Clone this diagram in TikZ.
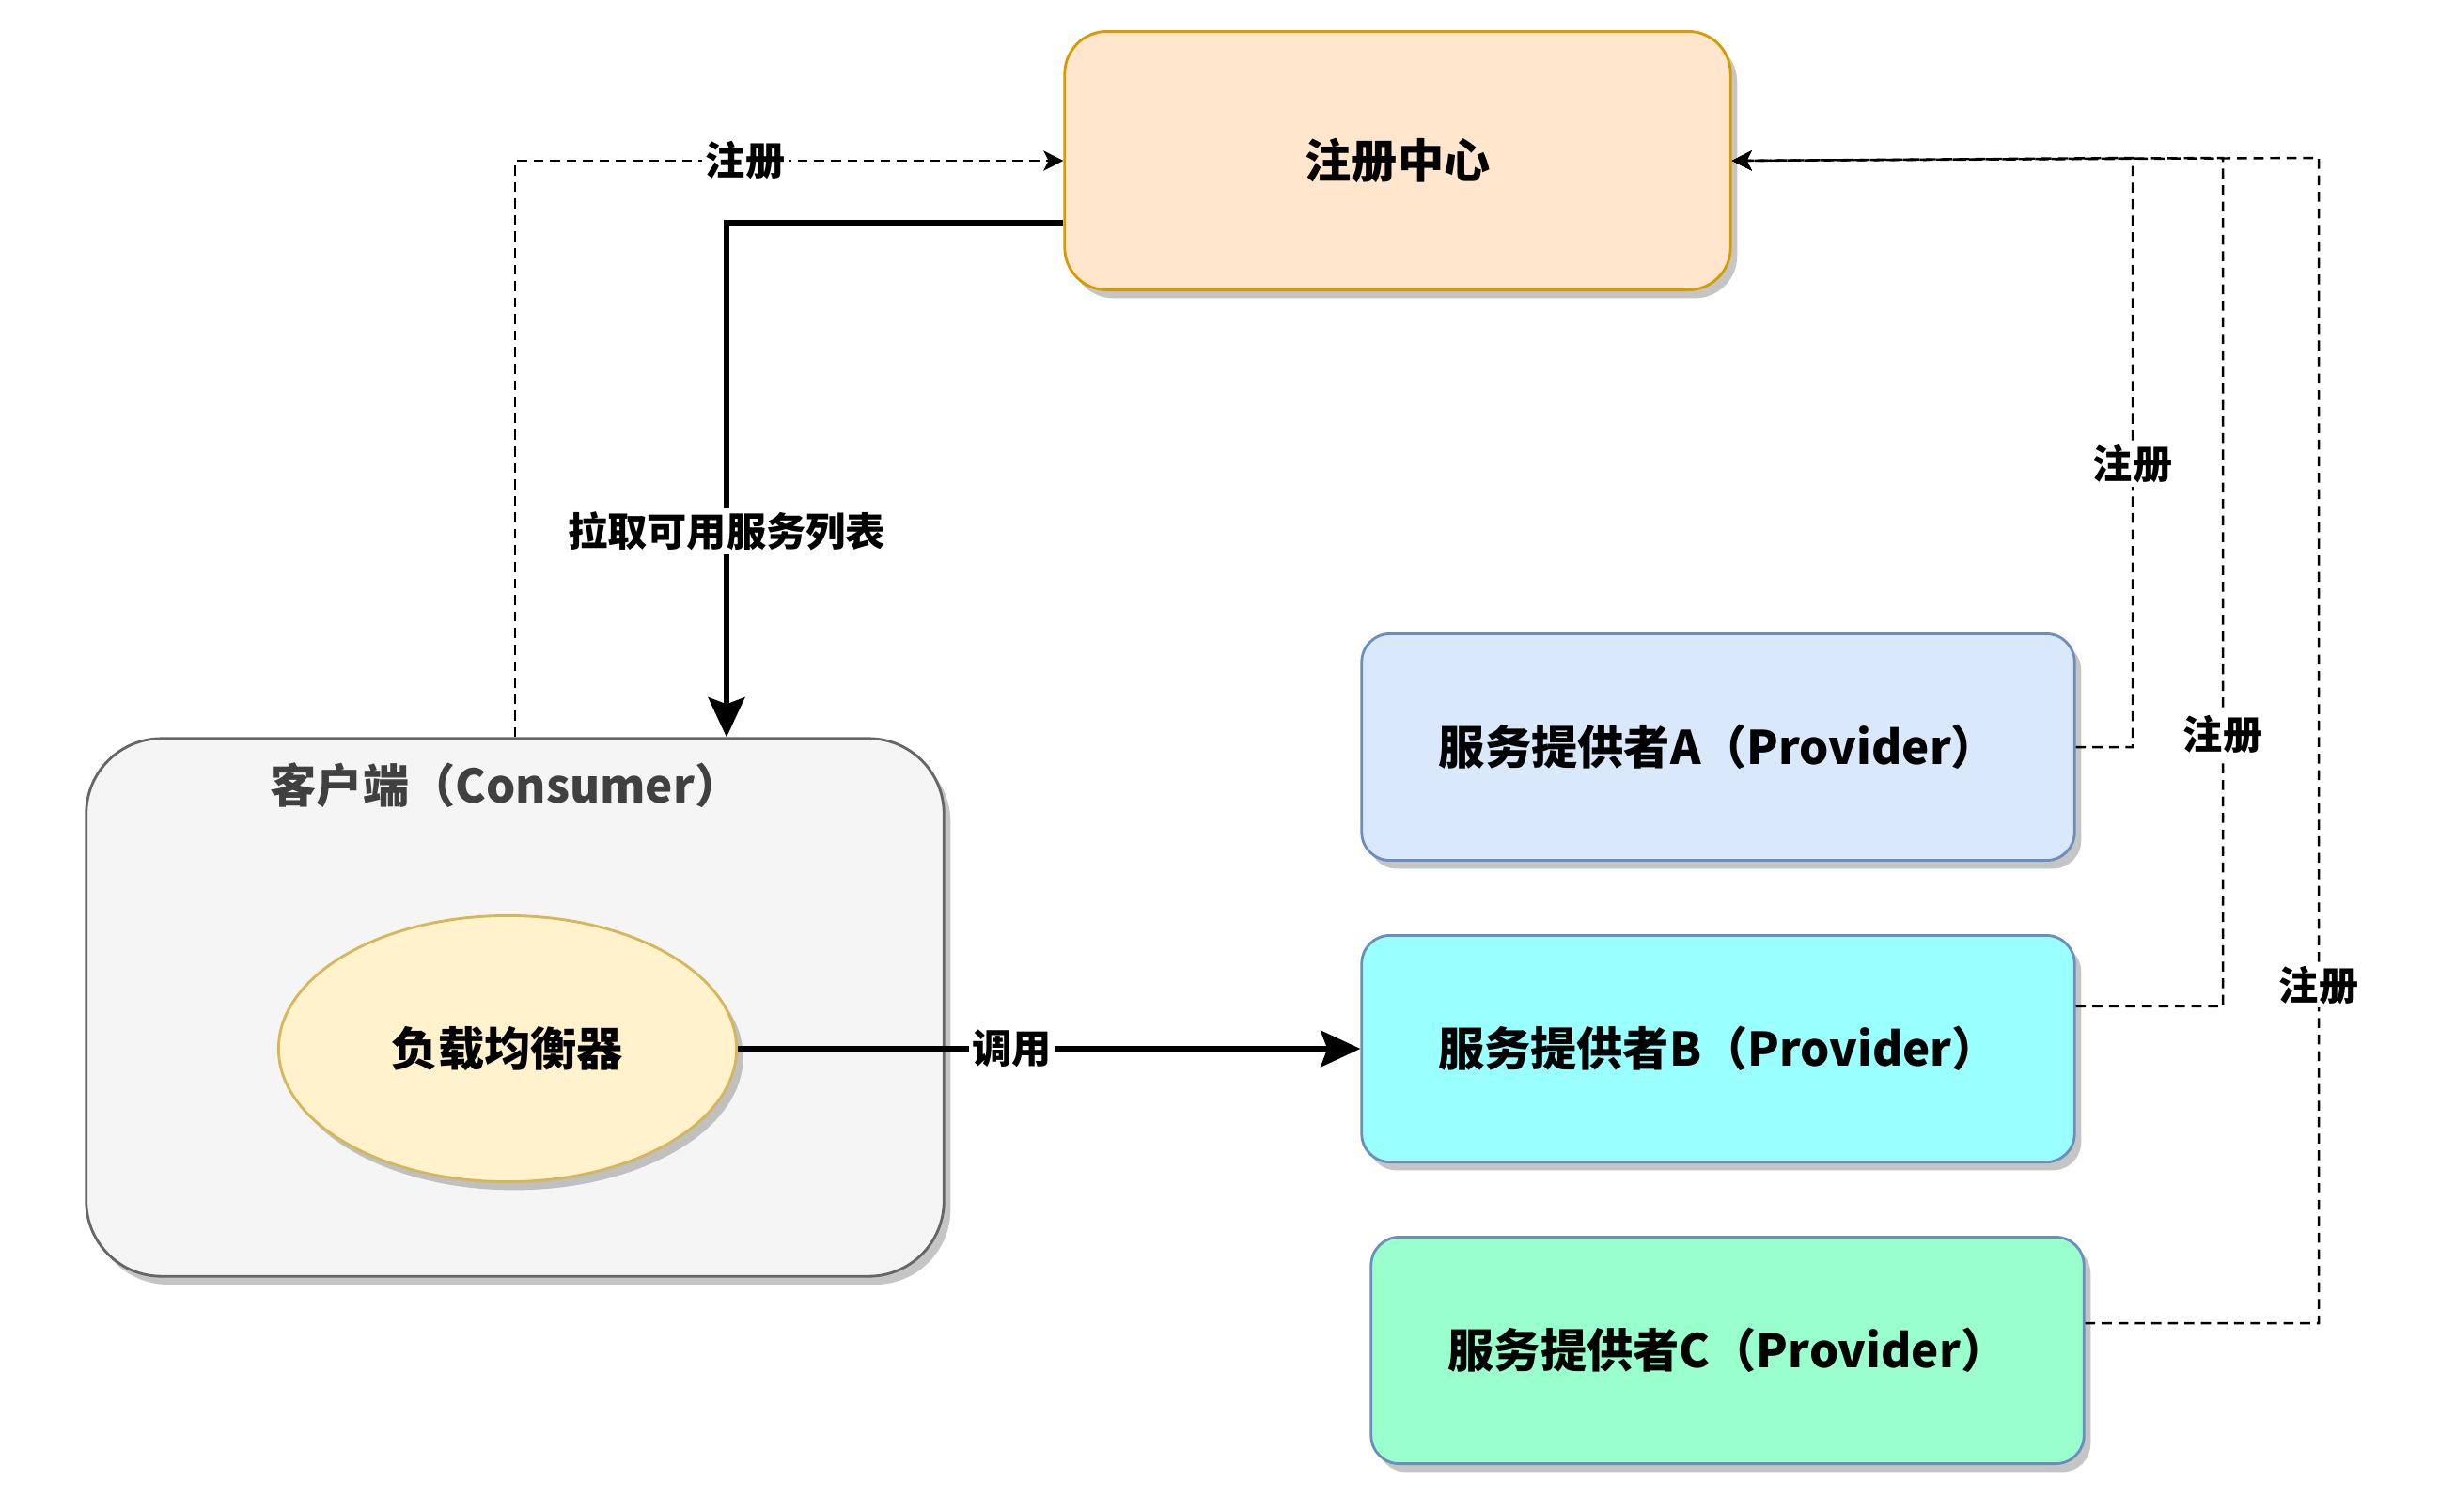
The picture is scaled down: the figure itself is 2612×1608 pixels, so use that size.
\documentclass[tikz,border=0pt]{standalone}
\usepackage{fontspec}
\setmainfont{Noto Sans CJK SC}
\usetikzlibrary{shapes.geometric,shadows,arrows.meta}
\definecolor{regfill}{HTML}{FFE6CC}
\definecolor{regdraw}{HTML}{D79B00}
\definecolor{clientfill}{HTML}{F5F5F5}
\definecolor{clientdraw}{HTML}{666666}
\definecolor{lbfill}{HTML}{FFF2CC}
\definecolor{lbdraw}{HTML}{D6B656}
\definecolor{provdraw}{HTML}{6C8EBF}
\definecolor{provA}{HTML}{DAE8FC}
\definecolor{provB}{HTML}{99FFFF}
\definecolor{provC}{HTML}{99FFCC}
\begin{document}
\begin{tikzpicture}[x=0.01cm, y=-0.01cm,
		shade/.style={drop shadow={shadow xshift=2pt, shadow yshift=-2.5pt, fill=black!45, opacity=0.5}},
		box/.style={draw, line width=0.8pt, shade, font=\bfseries\fontsize{14}{17}\selectfont},
		provider/.style={box, draw=provdraw, rounded corners=0.3cm, minimum width=7.58cm, minimum height=2.41cm},
		lbl/.style={fill=white, inner sep=1pt, font=\bfseries\fontsize{12}{14}\selectfont},
		regline/.style={line width=0.7pt, dash pattern=on 3pt off 2pt, -{Stealth[length=6pt, width=6pt, inset=1.5pt]}},
		pullline/.style={line width=1.7pt, -{Stealth[length=12pt, width=11pt, inset=2pt]}}]
	\useasboundingbox[fill=white] (0,0) rectangle (2612,1608);
	% boxes
	\node[box, draw=regdraw, fill=regfill, rounded corners=0.45cm, minimum width=7.08cm, minimum height=2.75cm] (center) at (1487,171) {注册中心};
	\node[box, draw=clientdraw, fill=clientfill, rounded corners=0.8cm, minimum width=9.12cm, minimum height=5.72cm] (client) at (548,1072) {};
	\node[text=black!75, font=\bfseries\fontsize{14}{17}\selectfont] (ctitle) at (538,836) {客户端（Consumer）};
	\node[box, ellipse, draw=lbdraw, fill=lbfill, minimum width=4.87cm, minimum height=2.83cm] (lb) at (540,1116) {负载均衡器};
	\node[provider, fill=provA] (pA) at (1828,795) {服务提供者A（Provider）};
	\node[provider, fill=provB] (pB) at (1828,1116) {服务提供者B（Provider）};
	\node[provider, fill=provC] (pC) at (1838,1437) {服务提供者C（Provider）};
	% bend points
	\coordinate (colC) at (548,0);
	\coordinate (colP) at (773,237);
	\coordinate (colA) at (2269,168);
	\coordinate (colB) at (2365,168);
	\coordinate (colD) at (2467,168);
	% connectors
	\draw[regline] (client.north -| colC) |- node[lbl, pos=0.71] {注册} (center.west);
	\draw[pullline] (colP -| center.west) -| node[lbl, pos=0.8] {拉取可用服务列表} (client.north -| colP);
	\draw[pullline] (lb.east) -- node[lbl, pos=0.44] {调用} (pB.west);
	\draw[regline] (pA.east) -| node[lbl, pos=0.74] {注册} (colA) -- (center.east);
	\draw[regline] ([yshift=12.8pt]pB.east) -| node[lbl, pos=0.66] {注册} (colB) -- (center.east);
	\draw[regline] ([yshift=8.2pt]pC.east) -| node[lbl, pos=0.645] {注册} (colD) -- (center.east);
\end{tikzpicture}
\end{document}
